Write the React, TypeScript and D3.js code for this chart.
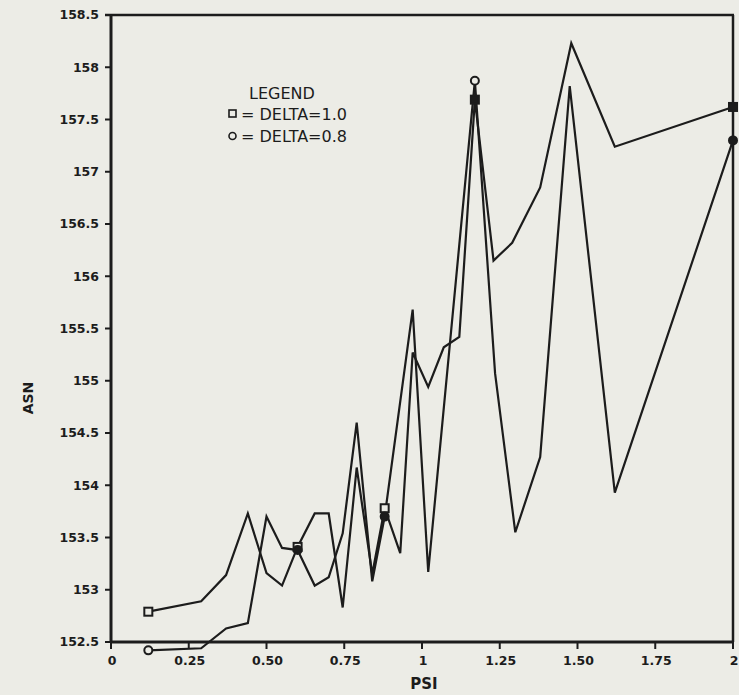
import React from "react";
import * as d3 from "d3";

// ---- data ----
const psiDelta10 = [0.12, 0.29, 0.37, 0.44, 0.50, 0.55, 0.60, 0.655, 0.70, 0.745, 0.79, 0.84, 0.88, 0.93, 0.97, 1.02, 1.07, 1.12, 1.17, 1.23, 1.29, 1.38, 1.48, 1.62, 2.0];
const asnDelta10 = [152.79, 152.89, 153.14, 153.73, 153.16, 153.04, 153.41, 153.73, 153.73, 152.83, 154.17, 153.15, 153.78, 153.35, 155.27, 154.94, 155.32, 155.42, 157.69, 156.15, 156.32, 156.85, 158.23, 157.24, 157.62];

const psiDelta08 = [0.12, 0.29, 0.37, 0.44, 0.50, 0.55, 0.60, 0.655, 0.70, 0.745, 0.79, 0.84, 0.88, 0.97, 1.02, 1.17, 1.235, 1.30, 1.38, 1.475, 1.62, 2.0];
const asnDelta08 = [152.42, 152.44, 152.63, 152.68, 153.70, 153.40, 153.38, 153.04, 153.12, 153.54, 154.60, 153.08, 153.70, 155.68, 153.17, 157.87, 155.07, 153.55, 154.27, 157.82, 153.93, 157.30];

// indices of the points that carry a marker
const markersDelta10 = [0, 6, 12, 18, 24];
const filledDelta10 = [false, false, false, true, true];
const markersDelta08 = [0, 6, 12, 15, 21];
const filledDelta08 = [false, true, true, false, true];

const xTicks = [0, 0.25, 0.5, 0.75, 1, 1.25, 1.5, 1.75, 2];
const xTickLabels = ["0", "0.25", "0.50", "0.75", "1", "1.25", "1.50", "1.75", "2"];
const yTicks = [152.5, 153, 153.5, 154, 154.5, 155, 155.5, 156, 156.5, 157, 157.5, 158, 158.5];
const yTickLabels = ["152.5", "153", "153.5", "154", "154.5", "155", "155.5", "156", "156.5", "157", "157.5", "158", "158.5"];

const legendTitle = "LEGEND";
const legendLabels = ["= DELTA=1.0", "= DELTA=0.8"];
const xTitle = "PSI";
const yTitle = "ASN";

const W = 739;
const H = 695;
const BG = "#ececE6";
const INK = "#1c1c1c";

export default function App() {
  const x = d3.scaleLinear().domain([0, 2]).range([111, 733]);
  const y = d3.scaleLinear().domain([152.5, 158.5]).range([642, 15]);

  const line = d3
    .line<[number, number]>()
    .x((d) => x(d[0]))
    .y((d) => y(d[1]));

  const s1: [number, number][] = psiDelta10.map((p, i) => [p, asnDelta10[i]]);
  const s2: [number, number][] = psiDelta08.map((p, i) => [p, asnDelta08[i]]);

  const tickFont = "'DejaVu Sans', sans-serif";
  const [x0, x1] = x.range();
  const [yb, yt] = y.range();

  return (
    <div style={{ position: "fixed", left: 0, top: 0, width: W, height: H }}>
      <svg width={W} height={H} style={{ display: "block" }}>
        <rect x={0} y={0} width={W} height={H} fill={BG} />

        {/* data lines */}
        <path d={line(s1) || ""} fill="none" stroke={INK} strokeWidth={2.2} strokeLinejoin="miter" />
        <path d={line(s2) || ""} fill="none" stroke={INK} strokeWidth={2.2} strokeLinejoin="miter" />

        {/* frame */}
        <line x1={x1} y1={yt} x2={x1} y2={yb} stroke={INK} strokeWidth={2.5} />
        <line x1={x0 - 6} y1={yt} x2={x1 + 1} y2={yt} stroke={INK} strokeWidth={2.5} />
        <line x1={x0} y1={yt - 1} x2={x0} y2={yb + 1} stroke={INK} strokeWidth={3} />
        <line x1={x0 - 1} y1={yb} x2={x1 + 1} y2={yb} stroke={INK} strokeWidth={3} />

        {/* markers */}
        {markersDelta10.map((idx, k) => {
          const cx = x(psiDelta10[idx]);
          const cy = y(asnDelta10[idx]);
          return (
            <rect
              key={"sq" + k}
              x={cx - 4}
              y={cy - 4}
              width={8}
              height={8}
              fill={filledDelta10[k] ? INK : BG}
              stroke={INK}
              strokeWidth={2}
            />
          );
        })}
        {markersDelta08.map((idx, k) => {
          const cx = x(psiDelta08[idx]);
          const cy = y(asnDelta08[idx]);
          return (
            <circle
              key={"ci" + k}
              cx={cx}
              cy={cy}
              r={4}
              fill={filledDelta08[k] ? INK : BG}
              stroke={INK}
              strokeWidth={2}
            />
          );
        })}

        {/* y ticks */}
        {yTicks.map((t, i) => (
          <g key={"yt" + i}>
            <line x1={x0 - 6} x2={x0} y1={y(t)} y2={y(t)} stroke={INK} strokeWidth={2} />
            <text
              x={x0 - 12}
              y={y(t)}
              dy="0.35em"
              textAnchor="end"
              fontFamily={tickFont}
              fontWeight="bold"
              fontSize={12.5}
              fill={INK}
            >
              {yTickLabels[i]}
            </text>
          </g>
        ))}

        {/* x ticks */}
        {xTicks.map((t, i) => (
          <g key={"xt" + i}>
            <line x1={x(t)} x2={x(t)} y1={yb} y2={yb + 7} stroke={INK} strokeWidth={2} />
            <text
              x={x(t) + 1}
              y={yb + 23}
              textAnchor="middle"
              fontFamily={tickFont}
              fontWeight="bold"
              fontSize={12.5}
              fill={INK}
            >
              {xTickLabels[i]}
            </text>
          </g>
        ))}

        {/* axis titles */}
        <text
          x={424}
          y={689}
          textAnchor="middle"
          fontFamily={tickFont}
          fontWeight="bold"
          fontSize={15}
          fill={INK}
        >
          {xTitle}
        </text>
        <text
          transform={`translate(33, ${398}) rotate(-90)`}
          textAnchor="middle"
          fontFamily={tickFont}
          fontWeight="bold"
          fontSize={14}
          fill={INK}
        >
          {yTitle}
        </text>

        {/* legend */}
        <text x={282} y={99} textAnchor="middle" fontFamily={tickFont} fontSize={16} fill={INK}>
          {legendTitle}
        </text>
        <rect x={229} y={110} width={7} height={7} fill="none" stroke={INK} strokeWidth={1.6} />
        <text x={241} y={120} fontFamily={tickFont} fontSize={16} fill={INK}>
          {legendLabels[0]}
        </text>
        <circle cx={232.5} cy={136} r={3.5} fill="none" stroke={INK} strokeWidth={1.6} />
        <text x={241} y={142} fontFamily={tickFont} fontSize={16} fill={INK}>
          {legendLabels[1]}
        </text>
      </svg>
    </div>
  );
}
